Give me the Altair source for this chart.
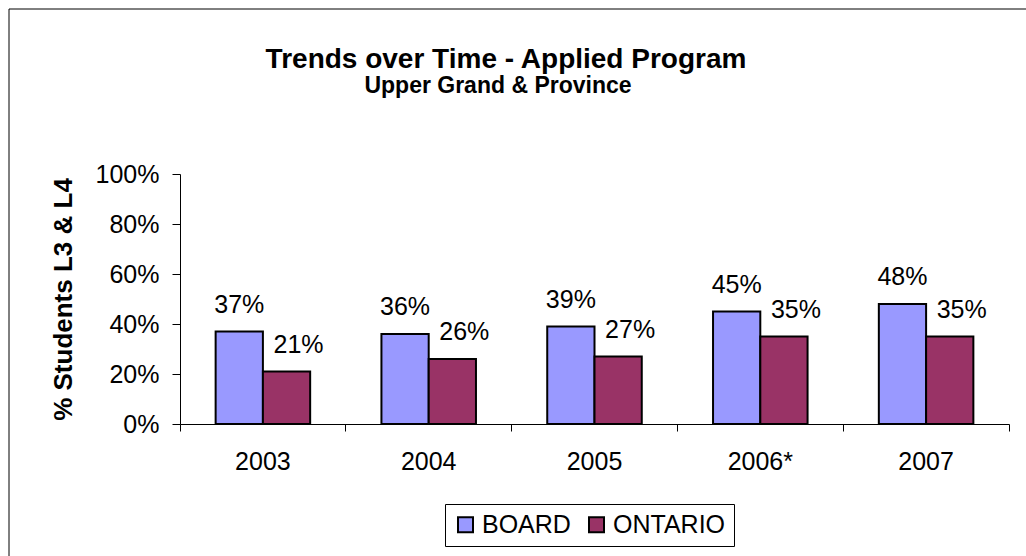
import altair as alt
import pandas as pd

years = ["2003", "2004", "2005", "2006*", "2007"]
board = [0.37, 0.36, 0.39, 0.45, 0.48]
ontario = [0.21, 0.26, 0.27, 0.35, 0.35]
series = ["BOARD", "ONTARIO"]
colors = ["#9999FF", "#993366"]
title_text = "Trends over Time - Applied Program"
subtitle_text = "Upper Grand & Province"
y_title = "% Students L3 & L4"
y_ticks = [0, 0.2, 0.4, 0.6, 0.8, 1.0]

rows = []
for i, yr in enumerate(years):
    rows.append({"year": yr, "series": "BOARD", "value": board[i]})
    rows.append({"year": yr, "series": "ONTARIO", "value": ontario[i]})
df = pd.DataFrame(rows)

FONT = "Liberation Sans"
W, H = 829, 250
PL, PT = 180, 174

x_enc = alt.X(
    "year:N", sort=years, title=None,
    scale=alt.Scale(paddingInner=0, paddingOuter=0),
    axis=alt.Axis(labelAngle=0, bandPosition=1, tickExtra=True, tickSize=7,
                  labelPadding=18, labelFontSize=25, labelFont=FONT,
                  labelColor="black", domainColor="black", tickColor="black",
                  domainWidth=1, tickWidth=1),
)
xoff = alt.XOffset("series:N", sort=series,
                   scale=alt.Scale(paddingInner=0, paddingOuter=0.754))
y_enc = alt.Y(
    "value:Q",
    scale=alt.Scale(domain=[0, 1]),
    axis=alt.Axis(values=y_ticks, format="%", grid=False, tickSize=8,
                  labelPadding=13, labelFontSize=25, labelFont=FONT,
                  labelColor="black", domainColor="black", tickColor="black",
                  title=y_title, titleFont=FONT, titleFontSize=26,
                  titleFontWeight="bold", titleColor="black", titlePadding=19),
)
color_enc = alt.Color(
    "series:N", sort=series,
    scale=alt.Scale(domain=series, range=colors),
    legend=alt.Legend(
        title=None, orient="none", legendX=265, legendY=330,
        direction="horizontal", symbolType="square", symbolSize=225,
        symbolStrokeColor="black", symbolStrokeWidth=2, symbolOpacity=1,
        labelFontSize=25, labelFont=FONT, labelColor="black", labelOffset=4,
        columnPadding=13, padding=8, strokeColor="black", fillColor="white",
    ),
)

base = alt.Chart(df)

bars = base.mark_bar(stroke="black", strokeWidth=2, opacity=1).encode(
    x=x_enc, xOffset=xoff, y=y_enc, color=color_enc
)

labels_board = base.transform_filter(alt.datum.series == "BOARD").mark_text(
    baseline="alphabetic", dy=-19, fontSize=25, font=FONT, color="black"
).encode(x=alt.X("year:N", sort=years), xOffset=xoff, y="value:Q",
         text=alt.Text("value:Q", format=".0%"))

labels_ont = base.transform_filter(alt.datum.series == "ONTARIO").mark_text(
    baseline="alphabetic", dy=-19, dx=12, fontSize=25, font=FONT, color="black"
).encode(x=alt.X("year:N", sort=years), xOffset=xoff, y="value:Q",
         text=alt.Text("value:Q", format=".0%"))

one = pd.DataFrame({"t": [title_text], "s": [subtitle_text]})
title_mark = alt.Chart(one).mark_text(
    fontSize=28, fontWeight="bold", font=FONT, color="black",
    align="center", baseline="alphabetic"
).encode(x=alt.value(326), y=alt.value(-106), text="t:N")
subtitle_mark = alt.Chart(one).mark_text(
    fontSize=23, fontWeight="bold", font=FONT, color="black",
    align="center", baseline="alphabetic"
).encode(x=alt.value(318), y=alt.value(-81), text="s:N")

border = alt.Chart(one).mark_rect(fill="transparent", stroke="black", strokeWidth=1).encode(
    x=alt.value(9 - PL), x2=alt.value(1200), y=alt.value(9 - PT), y2=alt.value(800)
)

chart = alt.layer(border, bars, labels_board, labels_ont, title_mark, subtitle_mark).properties(
    width=W, height=H,
    padding={"left": PL, "top": PT, "right": 1026 - PL - W, "bottom": 556 - PT - H},
    autosize=alt.AutoSizeParams(type="none"),
    background="white",
).configure_view(stroke=None)

chart.save("out.html", embed_options={"renderer": "svg", "actions": False})
